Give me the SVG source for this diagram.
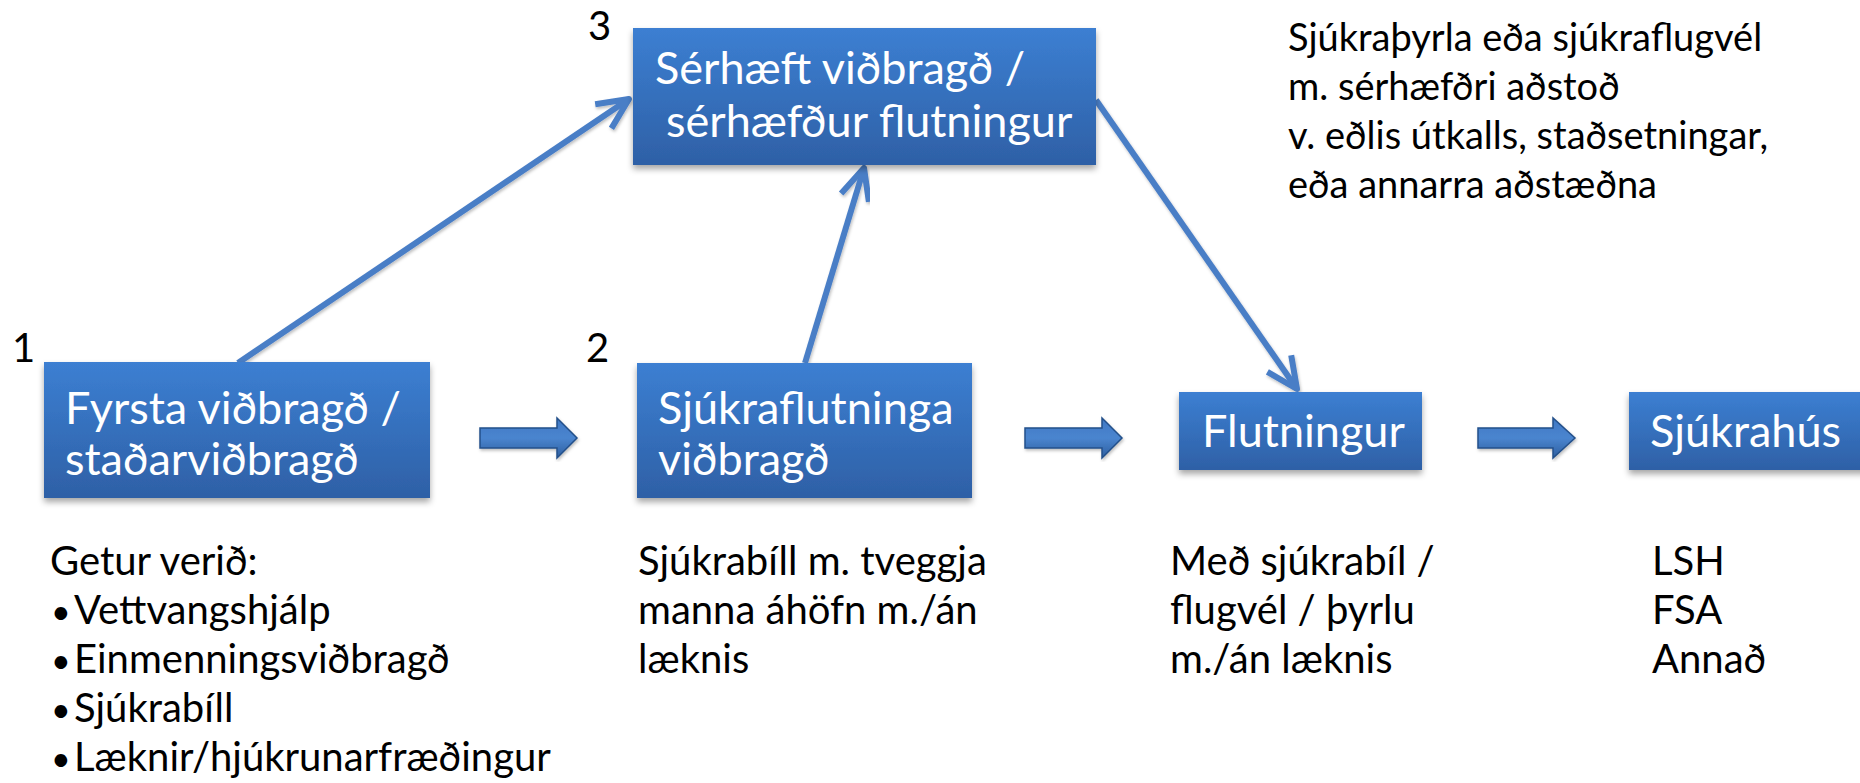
<svg xmlns="http://www.w3.org/2000/svg" width="1860" height="783" viewBox="0 0 1860 783">
  <defs>
    <linearGradient id="boxGrad" x1="0" y1="0" x2="0" y2="1">
      <stop offset="0" stop-color="#3c7fd2"/>
      <stop offset="1" stop-color="#2e60a6"/>
    </linearGradient>
    <linearGradient id="arrGrad" x1="0" y1="0" x2="0" y2="1">
      <stop offset="0" stop-color="#3f78c4"/>
      <stop offset="0.5" stop-color="#4a85cf"/>
      <stop offset="1" stop-color="#2e5e9f"/>
    </linearGradient>
    <filter id="shadow" x="-10%" y="-10%" width="120%" height="130%">
      <feDropShadow dx="0" dy="4" stdDeviation="3" flood-color="#000" flood-opacity="0.35"/>
    </filter>
    <filter id="lshadow" x="-10%" y="-10%" width="120%" height="120%">
      <feDropShadow dx="1" dy="2" stdDeviation="1.5" flood-color="#000" flood-opacity="0.25"/>
    </filter>
    <marker id="chev" viewBox="-40 -20 46 40" refX="0" refY="0" markerWidth="46" markerHeight="40" markerUnits="userSpaceOnUse" orient="auto">
      <path d="M-31,-14.5 L0,0 L-31,14.5" fill="none" stroke="#4a7ec6" stroke-width="6" stroke-linejoin="round" stroke-linecap="butt"/>
    </marker>
  </defs>
  <style>
    .box { fill: url(#boxGrad); filter: url(#shadow); }
    .bt { font-family: Lato, "Open Sans", sans-serif; font-size: 45px; fill: #ffffff; }
    .t { font-family: Lato, "Open Sans", sans-serif; font-size: 40px; fill: #000000; }
    .tr { font-family: Lato, "Open Sans", sans-serif; font-size: 38px; fill: #000000; }
    .bul { font-family: Lato, "Open Sans", sans-serif; font-size: 34px; fill: #000000; }
    .num { font-family: Lato, "Open Sans", sans-serif; font-size: 40px; fill: #000000; }
    .conn { fill: none; stroke: #4a7ec6; stroke-width: 6; marker-end: url(#chev); filter: url(#lshadow); }
    .blk { fill: url(#arrGrad); stroke: #24508a; stroke-width: 1.5; filter: url(#lshadow); }
  </style>
  <rect width="1860" height="783" fill="#ffffff"/>

  <g id="connectors">
    <line class="conn" x1="238" y1="363" x2="629" y2="99"/>
    <line class="conn" x1="805" y1="363" x2="864" y2="168"/>
    <line class="conn" x1="1096" y1="100" x2="1297" y2="389"/>
    <path class="blk" d="M480,428 H557 V418 L577,438 L557,458 V448 H480 Z"/>
    <path class="blk" d="M1025,428 H1102 V418 L1122,438 L1102,458 V448 H1025 Z"/>
    <path class="blk" d="M1478,428 H1553 V418 L1575,438 L1553,458 V448 H1478 Z"/>
  </g>

  <g id="node1">
    <text class="num" x="12" y="362">1</text>
    <rect class="box" x="44" y="362" width="386" height="136"/>
    <text class="bt" x="65" y="424">Fyrsta viðbragð /</text>
    <text class="bt" x="65" y="475">staðarviðbragð</text>
  </g>

  <g id="node2">
    <text class="num" x="586" y="362">2</text>
    <rect class="box" x="637" y="363" width="335" height="135"/>
    <text class="bt" x="658" y="424">Sjúkraflutninga</text>
    <text class="bt" x="658" y="475">viðbragð</text>
  </g>

  <g id="node3">
    <text class="num" x="588" y="40">3</text>
    <rect class="box" x="633" y="28" width="463" height="137"/>
    <text class="bt" x="655" y="84">Sérhæft viðbragð /</text>
    <text class="bt" x="666" y="137">sérhæfður flutningur</text>
  </g>

  <g id="node4">
    <rect class="box" x="1179" y="392" width="243" height="78"/>
    <text class="bt" x="1202" y="447">Flutningur</text>
  </g>

  <g id="node5">
    <rect class="box" x="1629" y="392" width="240" height="78"/>
    <text class="bt" x="1650" y="447">Sjúkrahús</text>
  </g>

  <g id="note3">
    <text class="tr" x="1288" y="51">Sjúkraþyrla eða sjúkraflugvél</text>
    <text class="tr" x="1288" y="100">m. sérhæfðri aðstoð</text>
    <text class="tr" x="1288" y="149">v. eðlis útkalls, staðsetningar,</text>
    <text class="tr" x="1288" y="198">eða annarra aðstæðna</text>
  </g>

  <g id="note1">
    <text class="t" x="50" y="575">Getur verið:</text>
    <text class="bul" x="51" y="624">•</text><text class="t" x="74" y="624">Vettvangshjálp</text>
    <text class="bul" x="51" y="673">•</text><text class="t" x="74" y="673">Einmenningsviðbragð</text>
    <text class="bul" x="51" y="722">•</text><text class="t" x="74" y="722">Sjúkrabíll</text>
    <text class="bul" x="51" y="771">•</text><text class="t" x="74" y="771">Læknir/hjúkrunarfræðingur</text>
  </g>

  <g id="note2">
    <text class="t" x="638" y="575">Sjúkrabíll m. tveggja</text>
    <text class="t" x="638" y="624">manna áhöfn m./án</text>
    <text class="t" x="638" y="673">læknis</text>
  </g>

  <g id="note4">
    <text class="t" x="1170" y="575">Með sjúkrabíl /</text>
    <text class="t" x="1170" y="624">flugvél / þyrlu</text>
    <text class="t" x="1170" y="673">m./án læknis</text>
  </g>

  <g id="note5">
    <text class="t" x="1652" y="575">LSH</text>
    <text class="t" x="1652" y="624">FSA</text>
    <text class="t" x="1652" y="673">Annað</text>
  </g>
</svg>
